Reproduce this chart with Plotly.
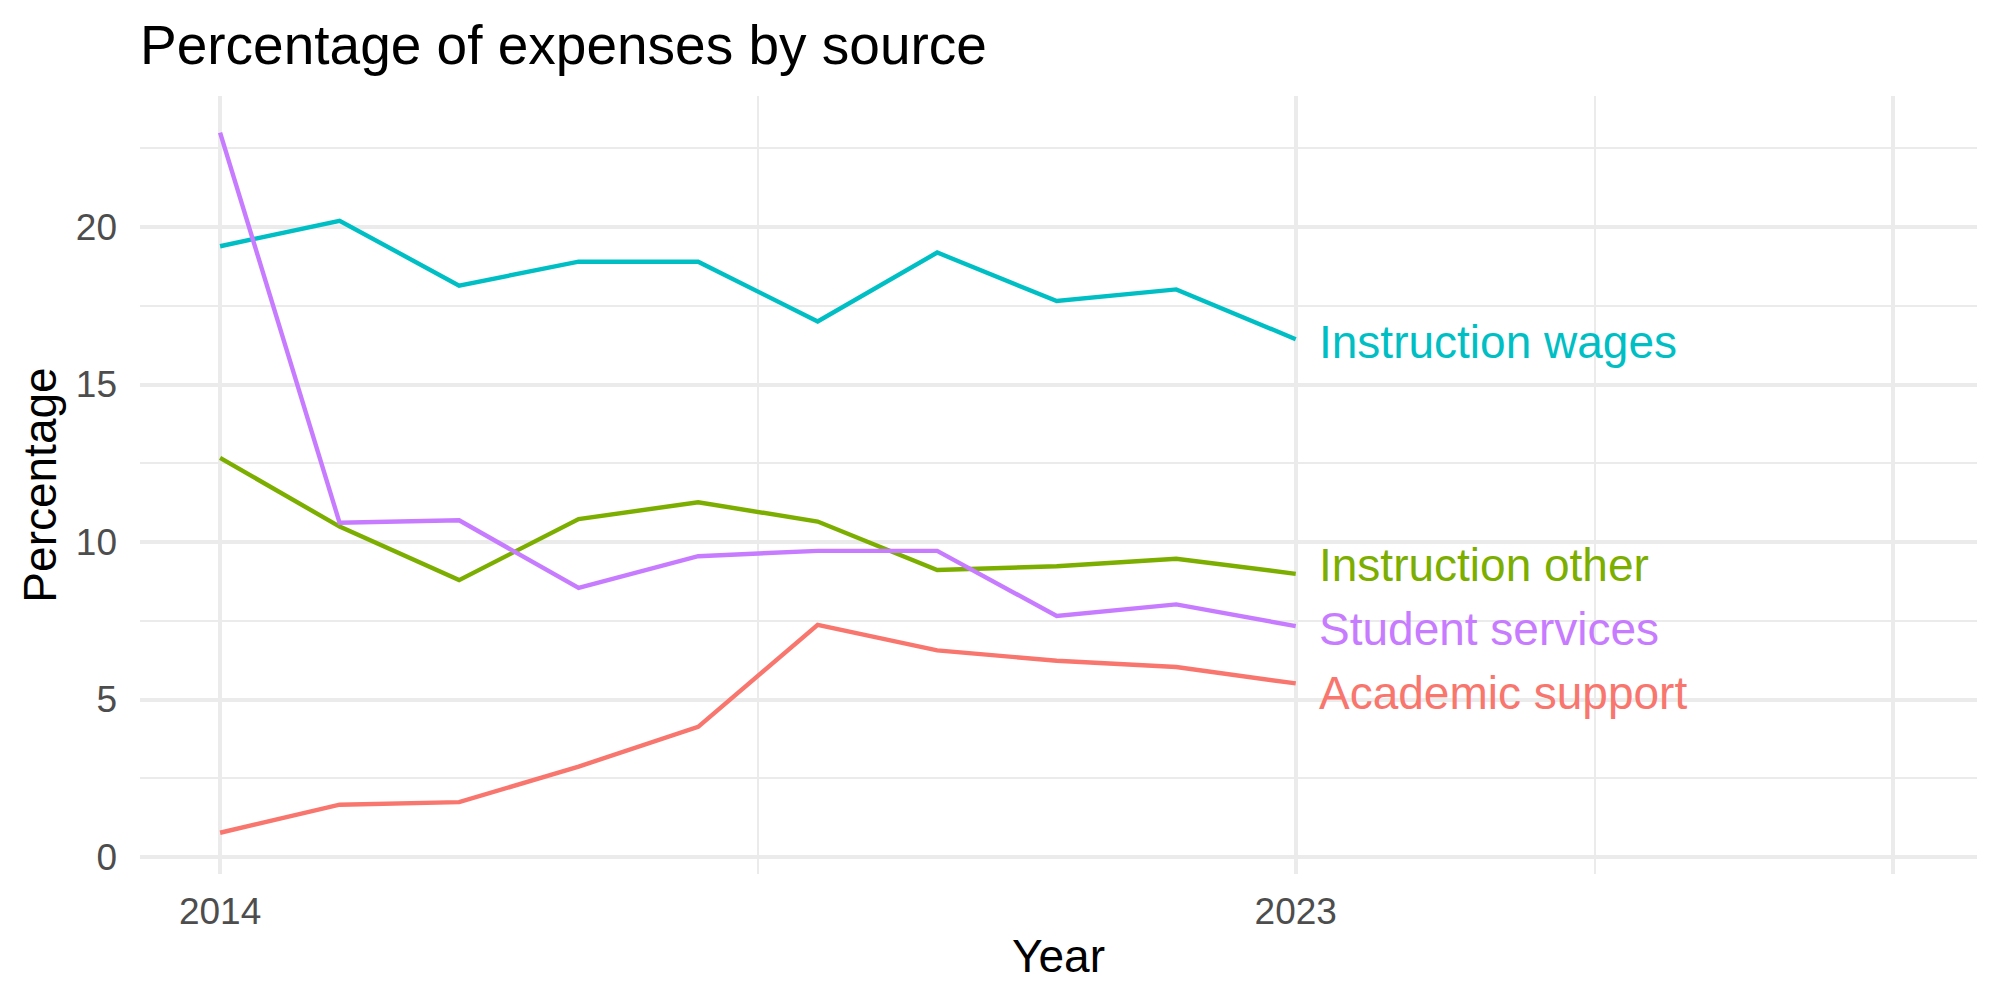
import plotly.graph_objects as go

years = [2014, 2015, 2016, 2017, 2018, 2019, 2020, 2021, 2022, 2023]
instruction_wages = [19.39, 20.2, 18.14, 18.9, 18.9, 17.0, 19.19, 17.65, 18.02, 16.44]
instruction_other = [12.67, 10.49, 8.79, 10.73, 11.26, 10.65, 9.11, 9.23, 9.47, 8.99]
student_services = [23.0, 10.61, 10.69, 8.54, 9.55, 9.72, 9.72, 7.65, 8.02, 7.33]
academic_support = [0.77, 1.66, 1.74, 2.87, 4.13, 7.37, 6.56, 6.23, 6.03, 5.51]

series_names = ["Academic support", "Instruction other", "Instruction wages", "Student services"]
series_values = [academic_support, instruction_other, instruction_wages, student_services]
series_colors = ["#F8766D", "#7CAE00", "#00BFC4", "#C77CFF"]
label_y = [5.22, 9.27, 16.36, 7.25]

x_tickvals = [2014, 2023, 2028]
x_ticktext = ["2014", "2023", ""]
x_minor = [2018.5, 2025.5]
y_tickvals = [0, 5, 10, 15, 20]
y_minor = [2.5, 7.5, 12.5, 17.5, 22.5]

FONT = "Liberation Sans, Arial, Helvetica, sans-serif"
GRID = "#EBEBEB"

fig = go.Figure()
for name, vals, col, ly in zip(series_names, series_values, series_colors, label_y):
    fig.add_trace(go.Scatter(x=years, y=vals, mode="lines", name=name,
                             line=dict(color=col, width=4.4), showlegend=False))
    fig.add_annotation(x=years[-1] + 0.18, y=ly, text=name, showarrow=False,
                       xanchor="left", yanchor="middle",
                       font=dict(family=FONT, size=46, color=col))

fig.update_layout(
    width=2000, height=1000,
    paper_bgcolor="white", plot_bgcolor="white",
    margin=dict(l=140, r=23, t=96, b=126),
    font=dict(family=FONT),
    title=dict(text="Percentage of expenses by source", x=0, xref="paper", xanchor="left",
               y=0.955, yref="container", yanchor="middle",
               font=dict(family=FONT, size=55, color="black")),
)
fig.update_xaxes(range=[2013.33, 2028.7], tickmode="array", tickvals=x_tickvals, ticktext=x_ticktext,
                 showgrid=True, gridcolor=GRID, gridwidth=4.4, zeroline=False, showline=False,
                 ticks="", ticklabelstandoff=12,
                 tickfont=dict(family=FONT, size=37, color="#4D4D4D"),
                 minor=dict(tickmode="array", tickvals=x_minor, showgrid=True, gridcolor=GRID, gridwidth=2.2),
                 title=dict(text="Year", standoff=8, font=dict(family=FONT, size=46, color="black")))
fig.update_yaxes(range=[-0.54, 24.16], tickmode="array", tickvals=y_tickvals,
                 showgrid=True, gridcolor=GRID, gridwidth=4.4, zeroline=False, showline=False,
                 ticks="", ticklabelstandoff=22,
                 tickfont=dict(family=FONT, size=37, color="#4D4D4D"),
                 minor=dict(tickmode="array", tickvals=y_minor, showgrid=True, gridcolor=GRID, gridwidth=2.2),
                 title=dict(text="Percentage", standoff=4, font=dict(family=FONT, size=46, color="black")))

fig.write_html("out.html")
